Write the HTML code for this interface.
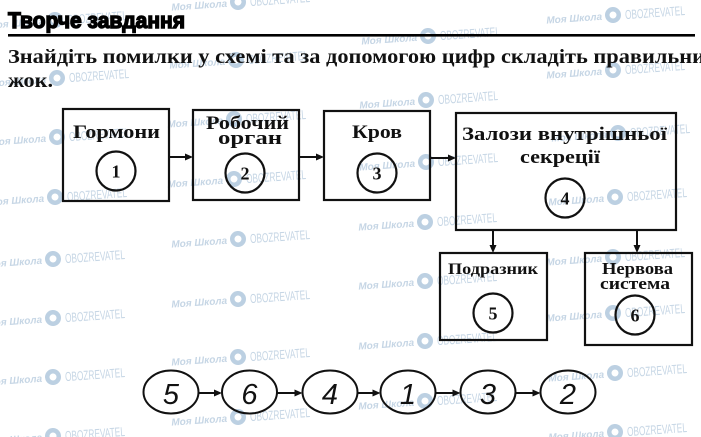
<!DOCTYPE html>
<html><head><meta charset="utf-8"><style>
html,body{margin:0;padding:0;background:#fff;}
svg{display:block;}
.wm1{font-family:"Liberation Sans","DejaVu Sans",sans-serif;font-style:italic;font-weight:bold;font-size:10px;fill:#c6d6e5;}
.wm2{font-family:"Liberation Sans Narrow","Liberation Sans","DejaVu Sans Condensed",sans-serif;font-size:13px;fill:#c6d6e5;}
.lb{font-family:"Liberation Serif","DejaVu Serif",serif;font-weight:bold;fill:#111;}
.hd{font-family:"Liberation Sans","DejaVu Sans",sans-serif;font-style:italic;font-size:29px;fill:#111;}
</style></head><body>
<svg width="701" height="437" viewBox="0 0 701 437" xmlns="http://www.w3.org/2000/svg">
<rect width="701" height="437" fill="#fff"/>
<!-- watermarks -->
<g>
<g transform="translate(55,20) rotate(-4)"><text class="wm1" x="-11" y="4" text-anchor="end">Моя Школа</text><circle r="8" fill="#bcd0e2"/><circle r="3.5" fill="#fff"/><text class="wm2" x="12" y="5" textLength="60" lengthAdjust="spacingAndGlyphs">OBOZREVATEL</text></g>
<g transform="translate(57,78) rotate(-4)"><text class="wm1" x="-11" y="4" text-anchor="end">Моя Школа</text><circle r="8" fill="#bcd0e2"/><circle r="3.5" fill="#fff"/><text class="wm2" x="12" y="5" textLength="60" lengthAdjust="spacingAndGlyphs">OBOZREVATEL</text></g>
<g transform="translate(57,137) rotate(-4)"><text class="wm1" x="-11" y="4" text-anchor="end">Моя Школа</text><circle r="8" fill="#bcd0e2"/><circle r="3.5" fill="#fff"/><text class="wm2" x="12" y="5" textLength="60" lengthAdjust="spacingAndGlyphs">OBOZREVATEL</text></g>
<g transform="translate(55,197) rotate(-4)"><text class="wm1" x="-11" y="4" text-anchor="end">Моя Школа</text><circle r="8" fill="#bcd0e2"/><circle r="3.5" fill="#fff"/><text class="wm2" x="12" y="5" textLength="60" lengthAdjust="spacingAndGlyphs">OBOZREVATEL</text></g>
<g transform="translate(53,259) rotate(-4)"><text class="wm1" x="-11" y="4" text-anchor="end">Моя Школа</text><circle r="8" fill="#bcd0e2"/><circle r="3.5" fill="#fff"/><text class="wm2" x="12" y="5" textLength="60" lengthAdjust="spacingAndGlyphs">OBOZREVATEL</text></g>
<g transform="translate(53,318) rotate(-4)"><text class="wm1" x="-11" y="4" text-anchor="end">Моя Школа</text><circle r="8" fill="#bcd0e2"/><circle r="3.5" fill="#fff"/><text class="wm2" x="12" y="5" textLength="60" lengthAdjust="spacingAndGlyphs">OBOZREVATEL</text></g>
<g transform="translate(53,377) rotate(-4)"><text class="wm1" x="-11" y="4" text-anchor="end">Моя Школа</text><circle r="8" fill="#bcd0e2"/><circle r="3.5" fill="#fff"/><text class="wm2" x="12" y="5" textLength="60" lengthAdjust="spacingAndGlyphs">OBOZREVATEL</text></g>
<g transform="translate(53,436) rotate(-4)"><text class="wm1" x="-11" y="4" text-anchor="end">Моя Школа</text><circle r="8" fill="#bcd0e2"/><circle r="3.5" fill="#fff"/><text class="wm2" x="12" y="5" textLength="60" lengthAdjust="spacingAndGlyphs">OBOZREVATEL</text></g>

<g transform="translate(238,2) rotate(-4)"><text class="wm1" x="-11" y="4" text-anchor="end">Моя Школа</text><circle r="8" fill="#bcd0e2"/><circle r="3.5" fill="#fff"/><text class="wm2" x="12" y="5" textLength="60" lengthAdjust="spacingAndGlyphs">OBOZREVATEL</text></g>
<g transform="translate(236,60) rotate(-4)"><text class="wm1" x="-11" y="4" text-anchor="end">Моя Школа</text><circle r="8" fill="#bcd0e2"/><circle r="3.5" fill="#fff"/><text class="wm2" x="12" y="5" textLength="60" lengthAdjust="spacingAndGlyphs">OBOZREVATEL</text></g>
<g transform="translate(234,119) rotate(-4)"><text class="wm1" x="-11" y="4" text-anchor="end">Моя Школа</text><circle r="8" fill="#bcd0e2"/><circle r="3.5" fill="#fff"/><text class="wm2" x="12" y="5" textLength="60" lengthAdjust="spacingAndGlyphs">OBOZREVATEL</text></g>
<g transform="translate(234,179) rotate(-4)"><text class="wm1" x="-11" y="4" text-anchor="end">Моя Школа</text><circle r="8" fill="#bcd0e2"/><circle r="3.5" fill="#fff"/><text class="wm2" x="12" y="5" textLength="60" lengthAdjust="spacingAndGlyphs">OBOZREVATEL</text></g>
<g transform="translate(238,239) rotate(-4)"><text class="wm1" x="-11" y="4" text-anchor="end">Моя Школа</text><circle r="8" fill="#bcd0e2"/><circle r="3.5" fill="#fff"/><text class="wm2" x="12" y="5" textLength="60" lengthAdjust="spacingAndGlyphs">OBOZREVATEL</text></g>
<g transform="translate(238,299) rotate(-4)"><text class="wm1" x="-11" y="4" text-anchor="end">Моя Школа</text><circle r="8" fill="#bcd0e2"/><circle r="3.5" fill="#fff"/><text class="wm2" x="12" y="5" textLength="60" lengthAdjust="spacingAndGlyphs">OBOZREVATEL</text></g>
<g transform="translate(238,357) rotate(-4)"><text class="wm1" x="-11" y="4" text-anchor="end">Моя Школа</text><circle r="8" fill="#bcd0e2"/><circle r="3.5" fill="#fff"/><text class="wm2" x="12" y="5" textLength="60" lengthAdjust="spacingAndGlyphs">OBOZREVATEL</text></g>
<g transform="translate(238,417) rotate(-4)"><text class="wm1" x="-11" y="4" text-anchor="end">Моя Школа</text><circle r="8" fill="#bcd0e2"/><circle r="3.5" fill="#fff"/><text class="wm2" x="12" y="5" textLength="60" lengthAdjust="spacingAndGlyphs">OBOZREVATEL</text></g>

<g transform="translate(428,36) rotate(-4)"><text class="wm1" x="-11" y="4" text-anchor="end">Моя Школа</text><circle r="8" fill="#bcd0e2"/><circle r="3.5" fill="#fff"/><text class="wm2" x="12" y="5" textLength="60" lengthAdjust="spacingAndGlyphs">OBOZREVATEL</text></g>
<g transform="translate(426,100) rotate(-4)"><text class="wm1" x="-11" y="4" text-anchor="end">Моя Школа</text><circle r="8" fill="#bcd0e2"/><circle r="3.5" fill="#fff"/><text class="wm2" x="12" y="5" textLength="60" lengthAdjust="spacingAndGlyphs">OBOZREVATEL</text></g>
<g transform="translate(426,162) rotate(-4)"><text class="wm1" x="-11" y="4" text-anchor="end">Моя Школа</text><circle r="8" fill="#bcd0e2"/><circle r="3.5" fill="#fff"/><text class="wm2" x="12" y="5" textLength="60" lengthAdjust="spacingAndGlyphs">OBOZREVATEL</text></g>
<g transform="translate(425,222) rotate(-4)"><text class="wm1" x="-11" y="4" text-anchor="end">Моя Школа</text><circle r="8" fill="#bcd0e2"/><circle r="3.5" fill="#fff"/><text class="wm2" x="12" y="5" textLength="60" lengthAdjust="spacingAndGlyphs">OBOZREVATEL</text></g>
<g transform="translate(425,281) rotate(-4)"><text class="wm1" x="-11" y="4" text-anchor="end">Моя Школа</text><circle r="8" fill="#bcd0e2"/><circle r="3.5" fill="#fff"/><text class="wm2" x="12" y="5" textLength="60" lengthAdjust="spacingAndGlyphs">OBOZREVATEL</text></g>
<g transform="translate(425,341) rotate(-4)"><text class="wm1" x="-11" y="4" text-anchor="end">Моя Школа</text><circle r="8" fill="#bcd0e2"/><circle r="3.5" fill="#fff"/><text class="wm2" x="12" y="5" textLength="60" lengthAdjust="spacingAndGlyphs">OBOZREVATEL</text></g>
<g transform="translate(425,401) rotate(-4)"><text class="wm1" x="-11" y="4" text-anchor="end">Моя Школа</text><circle r="8" fill="#bcd0e2"/><circle r="3.5" fill="#fff"/><text class="wm2" x="12" y="5" textLength="60" lengthAdjust="spacingAndGlyphs">OBOZREVATEL</text></g>

<g transform="translate(613,15) rotate(-4)"><text class="wm1" x="-11" y="4" text-anchor="end">Моя Школа</text><circle r="8" fill="#bcd0e2"/><circle r="3.5" fill="#fff"/><text class="wm2" x="12" y="5" textLength="60" lengthAdjust="spacingAndGlyphs">OBOZREVATEL</text></g>
<g transform="translate(613,70) rotate(-4)"><text class="wm1" x="-11" y="4" text-anchor="end">Моя Школа</text><circle r="8" fill="#bcd0e2"/><circle r="3.5" fill="#fff"/><text class="wm2" x="12" y="5" textLength="60" lengthAdjust="spacingAndGlyphs">OBOZREVATEL</text></g>
<g transform="translate(618,133) rotate(-4)"><text class="wm1" x="-11" y="4" text-anchor="end">Моя Школа</text><circle r="8" fill="#bcd0e2"/><circle r="3.5" fill="#fff"/><text class="wm2" x="12" y="5" textLength="60" lengthAdjust="spacingAndGlyphs">OBOZREVATEL</text></g>
<g transform="translate(615,197) rotate(-4)"><text class="wm1" x="-11" y="4" text-anchor="end">Моя Школа</text><circle r="8" fill="#bcd0e2"/><circle r="3.5" fill="#fff"/><text class="wm2" x="12" y="5" textLength="60" lengthAdjust="spacingAndGlyphs">OBOZREVATEL</text></g>
<g transform="translate(613,257) rotate(-4)"><text class="wm1" x="-11" y="4" text-anchor="end">Моя Школа</text><circle r="8" fill="#bcd0e2"/><circle r="3.5" fill="#fff"/><text class="wm2" x="12" y="5" textLength="60" lengthAdjust="spacingAndGlyphs">OBOZREVATEL</text></g>
<g transform="translate(613,313) rotate(-4)"><text class="wm1" x="-11" y="4" text-anchor="end">Моя Школа</text><circle r="8" fill="#bcd0e2"/><circle r="3.5" fill="#fff"/><text class="wm2" x="12" y="5" textLength="60" lengthAdjust="spacingAndGlyphs">OBOZREVATEL</text></g>
<g transform="translate(615,373) rotate(-4)"><text class="wm1" x="-11" y="4" text-anchor="end">Моя Школа</text><circle r="8" fill="#bcd0e2"/><circle r="3.5" fill="#fff"/><text class="wm2" x="12" y="5" textLength="60" lengthAdjust="spacingAndGlyphs">OBOZREVATEL</text></g>
<g transform="translate(615,432) rotate(-4)"><text class="wm1" x="-11" y="4" text-anchor="end">Моя Школа</text><circle r="8" fill="#bcd0e2"/><circle r="3.5" fill="#fff"/><text class="wm2" x="12" y="5" textLength="60" lengthAdjust="spacingAndGlyphs">OBOZREVATEL</text></g>
</g>

<!-- heading -->
<text x="8" y="28" font-family="'Liberation Sans Narrow','Liberation Sans',sans-serif" font-weight="bold" font-size="22" fill="#000" stroke="#000" stroke-width="1.4" textLength="177" lengthAdjust="spacingAndGlyphs">Творче завдання</text>
<rect x="8" y="34" width="687" height="2.6" fill="#000"/>

<text class="lb" x="8" y="63" font-size="20" textLength="697" lengthAdjust="spacingAndGlyphs">Знайдіть помилки у схемі та за допомогою цифр складіть правильни</text>
<text class="lb" x="8" y="87" font-size="20" textLength="45" lengthAdjust="spacingAndGlyphs">жок.</text>

<!-- boxes -->
<g fill="none" stroke="#111" stroke-width="2.2">
<rect x="63" y="109" width="106" height="92"/>
<rect x="193" y="110" width="106" height="90"/>
<rect x="324" y="111" width="106" height="89"/>
<rect x="456" y="113" width="220" height="117"/>
<rect x="440" y="253" width="107" height="87"/>
<rect x="585" y="253" width="107" height="92"/>
<circle cx="116" cy="171" r="19.5"/>
<circle cx="245" cy="173" r="19.5"/>
<circle cx="377" cy="173" r="19.5"/>
<circle cx="565" cy="198" r="19.5"/>
<circle cx="493" cy="313" r="19.5"/>
<circle cx="635" cy="315" r="19.5"/>
</g>

<!-- box connectors -->
<g stroke="#111" stroke-width="2" fill="none">
<line x1="169" y1="157" x2="188" y2="157"/>
<line x1="299" y1="157" x2="318" y2="157"/>
<line x1="430" y1="158" x2="450" y2="158"/>
<line x1="493" y1="230" x2="493" y2="247"/>
<line x1="637" y1="230" x2="637" y2="247"/>
</g>
<g fill="#111">
<polygon points="193,157 185,153.5 185,160.5"/>
<polygon points="324,157 316,153.5 316,160.5"/>
<polygon points="456,158 448,154.5 448,161.5"/>
<polygon points="493,253 489.5,245 496.5,245"/>
<polygon points="637,253 633.5,245 640.5,245"/>
</g>

<!-- labels -->
<g text-anchor="middle">
<text class="lb" x="116.5" y="138" font-size="18.5" textLength="87" lengthAdjust="spacingAndGlyphs">Гормони</text>
<text class="lb" x="247.5" y="129" font-size="18.5" textLength="83" lengthAdjust="spacingAndGlyphs">Робочий</text>
<text class="lb" x="250" y="144" font-size="18.5" textLength="64" lengthAdjust="spacingAndGlyphs">орган</text>
<text class="lb" x="377" y="138" font-size="18.5" textLength="50" lengthAdjust="spacingAndGlyphs">Кров</text>
<text class="lb" x="564.5" y="140" font-size="18.5" textLength="205" lengthAdjust="spacingAndGlyphs">Залози внутрішньої</text>
<text class="lb" x="560" y="163" font-size="18.5" textLength="80" lengthAdjust="spacingAndGlyphs">секреції</text>
<text class="lb" x="493" y="274" font-size="16" textLength="90" lengthAdjust="spacingAndGlyphs">Подразник</text>
<text class="lb" x="637.5" y="274" font-size="16.5" textLength="71" lengthAdjust="spacingAndGlyphs">Нервова</text>
<text class="lb" x="635" y="289" font-size="16.5" textLength="70" lengthAdjust="spacingAndGlyphs">система</text>

<text class="lb" x="116" y="177.5" font-size="18">1</text>
<text class="lb" x="245" y="179.5" font-size="18">2</text>
<text class="lb" x="377" y="179.5" font-size="18">3</text>
<text class="lb" x="565" y="204.5" font-size="18">4</text>
<text class="lb" x="493" y="319.5" font-size="18">5</text>
<text class="lb" x="635" y="321.5" font-size="18">6</text>
</g>

<!-- answer chain -->
<g fill="none" stroke="#111" stroke-width="2">
<ellipse cx="171" cy="392" rx="27.5" ry="21.5"/>
<ellipse cx="249.5" cy="392" rx="27.5" ry="21.5"/>
<ellipse cx="330" cy="392" rx="27.5" ry="21.5"/>
<ellipse cx="408" cy="392" rx="27.5" ry="21.5"/>
<ellipse cx="488" cy="392" rx="27.5" ry="21.5"/>
<ellipse cx="568" cy="392" rx="27.5" ry="21.5"/>
<line x1="198.5" y1="393" x2="216" y2="393"/>
<line x1="277" y1="393" x2="297" y2="393"/>
<line x1="357.5" y1="393" x2="375" y2="393"/>
<line x1="435.5" y1="393" x2="455" y2="393"/>
<line x1="515.5" y1="393" x2="535" y2="393"/>
</g>
<g fill="#111">
<polygon points="222,393 214,389.5 214,396.5"/>
<polygon points="302.5,393 294.5,389.5 294.5,396.5"/>
<polygon points="380.5,393 372.5,389.5 372.5,396.5"/>
<polygon points="460.5,393 452.5,389.5 452.5,396.5"/>
<polygon points="540.5,393 532.5,389.5 532.5,396.5"/>
</g>
<g text-anchor="middle">
<text class="hd" x="171" y="404">5</text>
<text class="hd" x="249.5" y="404">6</text>
<text class="hd" x="330" y="404">4</text>
<text class="hd" x="408" y="404">1</text>
<text class="hd" x="488" y="404">3</text>
<text class="hd" x="568" y="404">2</text>
</g>
</svg>
</body></html>
